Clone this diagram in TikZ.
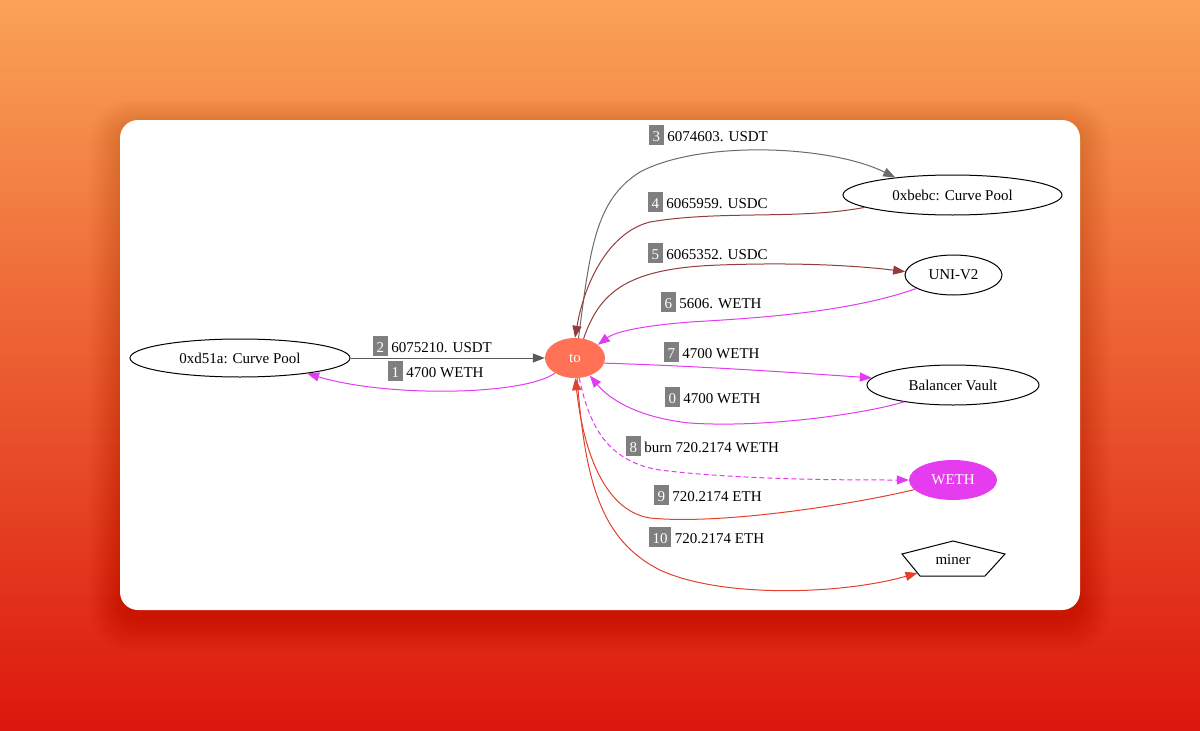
\documentclass[tikz,border=0pt]{standalone}
\usepackage{fontspec}
\setmainfont{Liberation Serif}
\usetikzlibrary{arrows.meta,shapes.geometric}
\definecolor{bgtop}{HTML}{FAA356}
\definecolor{bgmid}{HTML}{EC6434}
\definecolor{bgbot}{HTML}{DC170D}
\definecolor{boxgray}{HTML}{7F7F7F}
\definecolor{egray}{HTML}{5A5A5A}
\definecolor{ebrown}{HTML}{943C3C}
\definecolor{emag}{HTML}{E33BF2}
\definecolor{ered}{HTML}{E5402C}
\definecolor{tofill}{HTML}{FF7256}
\definecolor{wethfill}{HTML}{E63CF0}
\newcommand\nb[1]{{\setlength\fboxsep{0pt}\colorbox{boxgray}{\rule[-4pt]{0pt}{20pt}\hspace{3.5pt}\textcolor{white}{#1}\hspace{3.5pt}}}}
\begin{document}
\begin{tikzpicture}[x=1pt,y=-1pt,
  txt/.style={font=\fontsize{15}{18}\selectfont},
  ell/.style={ellipse, draw=black, line width=1pt, inner sep=0pt, txt},
  lbl/.style={anchor=base west, inner sep=0pt, txt},
  edge/.style={line width=1pt, -{Triangle[length=12pt,width=9pt]}}
]
\useasboundingbox (0,0) rectangle (1200,731);
\shade[top color=bgtop, middle color=bgmid, bottom color=bgbot] (0,0) rectangle (1200,731);
% card shadow
\foreach \i in {1,...,24}{
  \fill[black, opacity=0.0055, rounded corners={18pt+\i pt}] (120-\i*1.3,126-\i*1.1) rectangle (1080+\i*1.3,618+\i*1.4);
}
\fill[white, rounded corners=18pt] (120,120) rectangle (1080,610);

% nodes
\node[ell, minimum width=220pt, minimum height=38pt] (d51a) at (240,358) {0xd51a: Curve Pool};
\node[ellipse, fill=tofill, inner sep=0pt, minimum width=60pt, minimum height=40pt, txt, text=white] (to) at (575,358) {to};
\node[ell, minimum width=219pt, minimum height=40pt] (bebc) at (952.5,195) {0xbebc: Curve Pool};
\node[ell, minimum width=97pt, minimum height=40pt] (uni) at (953.5,275) {UNI-V2};
\node[ell, minimum width=172pt, minimum height=40pt] (bal) at (953,385) {Balancer Vault};
\node[ellipse, fill=wethfill, inner sep=0pt, minimum width=88pt, minimum height=40pt, txt, text=white] (weth) at (953,480) {WETH};
\draw[line width=1pt] (953,541) -- (1005,554) -- (985,576) -- (920,576) -- (902,554) -- cycle;
\node[txt, inner sep=0pt] (miner) at (953,560) {miner};
\coordinate (minertip) at (917.5,573);

% edges
\draw[edge, egray] (d51a.east) -- (to.west);
\draw[edge, emag] (to.217) .. controls (525,395) and (390,398) .. (d51a.-13);
\draw[edge, egray!90!white] (to.80) .. controls (590,250) and (595,200) .. (640,172) .. controls (700,140) and (830,145) .. (bebc.163);
\draw[edge, ebrown] (bebc.188) .. controls (800,220) and (720,210) .. (650,222) .. controls (610,232) and (585,280) .. (to.90);
\draw[edge, ebrown] (to.66) .. controls (600,290) and (630,268) .. (720,265) .. controls (800,262) and (860,266) .. (uni.176);
\draw[edge, emag] (uni.200) .. controls (850,312) and (760,318) .. (690,322) .. controls (640,326) and (615,332) .. (to.30);
\draw[edge, emag] (to.-10) .. controls (700,366) and (800,373) .. (bal.175);
\draw[edge, emag] (bal.199) .. controls (860,415) and (760,428) .. (690,423) .. controls (640,418) and (610,400) .. (to.-50);
\draw[edge, emag, dash pattern=on 5pt off 3pt] (to.-78) .. controls (590,430) and (610,462) .. (660,470) .. controls (740,480) and (850,480) .. (weth.180);
\draw[edge, ered] (weth.194) .. controls (850,505) and (720,525) .. (650,518) .. controls (600,510) and (582,440) .. (to.-89);
\draw[edge, ered] (to.-84) .. controls (585,480) and (600,540) .. (660,570) .. controls (720,598) and (840,595) .. (minertip);

% labels
\node[lbl] (l2) at (373,352) {\nb{2} 6075210. USDT};
\node[lbl] (l1) at (388,377) {\nb{1} 4700 WETH};
\node[lbl] (l3) at (649,141) {\nb{3} 6074603. USDT};
\node[lbl] (l4) at (648,208) {\nb{4} 6065959. USDC};
\node[lbl] (l5) at (648,259) {\nb{5} 6065352. USDC};
\node[lbl] (l6) at (661,308) {\nb{6} 5606. WETH};
\node[lbl] (l7) at (664,358) {\nb{7} 4700 WETH};
\node[lbl] (l0) at (665,403) {\nb{0} 4700 WETH};
\node[lbl] (l8) at (626,452) {\nb{8} burn 720.2174 WETH};
\node[lbl] (l9) at (654,501) {\nb{9} 720.2174 ETH};
\node[lbl] (l10) at (649,543) {\nb{10} 720.2174 ETH};
\end{tikzpicture}
\end{document}
